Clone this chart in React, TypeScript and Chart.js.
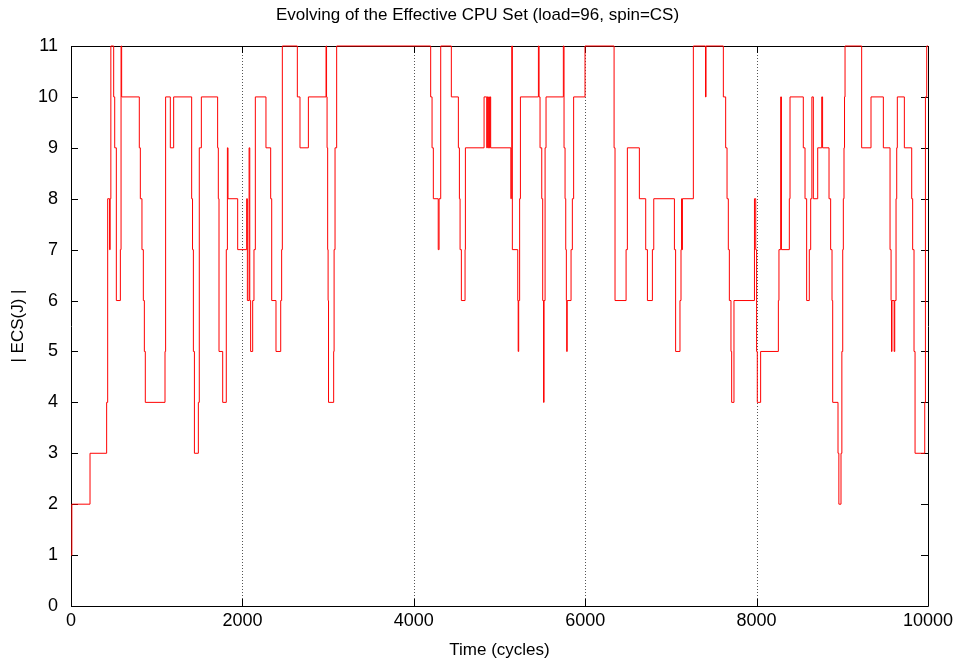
import React, { useEffect, useRef } from "react";
import { Chart, registerables } from "chart.js";

Chart.register(...registerables);

const chartTitle = "Evolving of the Effective CPU Set (load=96, spin=CS)";
const xAxisTitle = "Time (cycles)";
const yAxisTitle = "| ECS(J) |";

// time (cycles) at which each new |ECS(J)| value starts
const stepTimes = [
  0, 10, 222, 416, 428, 450, 457, 465, 498, 510, 529, 576, 584, 591, 797, 809, 828, 844, 856, 867,
  1097, 1104, 1159, 1198, 1408, 1418, 1428, 1440, 1486, 1497, 1521, 1711, 1719, 1727, 1770, 1812, 1825, 1832, 1945,
  2050, 2058, 2078, 2086, 2096, 2120, 2135, 2151, 2275, 2330, 2342, 2392, 2447, 2458, 2466, 2641, 2672, 2770,
  2976, 2982, 2988, 2995, 3000, 3005, 3065, 3070, 3081, 3100,
  4197, 4213, 4228, 4285, 4295, 4314, 4438, 4520, 4532, 4540, 4555, 4598, 4602, 4820, 4851, 4858, 4866, 4874, 4882, 4890, 4897,
  5133, 5138, 5143, 5150, 5213, 5218, 5224, 5235, 5244, 5454, 5462, 5473, 5493, 5504, 5514, 5520, 5532, 5543,
  5745, 5753, 5765, 5773, 5780, 5784, 5790, 5835, 5850, 5865, 5998,
  6337, 6348, 6477, 6492, 6632, 6706, 6726, 6784, 6800, 7041, 7055, 7106, 7118, 7125, 7128, 7134, 7262, 7404, 7410,
  7612, 7639, 7655, 7670, 7682, 7701, 7709, 7736, 7975, 7990, 8000, 8008, 8047, 8254, 8261, 8281, 8290, 8382, 8390,
  8545, 8565, 8584, 8615, 8631, 8645, 8662, 8713, 8760, 8770, 8845, 8864, 8880, 8888, 8950, 8960, 8985, 8995, 9005,
  9012, 9020, 9026, 9032, 9226, 9335, 9479, 9557, 9569, 9574, 9580, 9605, 9612, 9627, 9635, 9642, 9724, 9810, 9821,
  9837, 9849, 9962, 9970, 9985, 10000,
];

const ecsValues = [
  1, 2, 3, 4, 8, 7, 8, 11, 10, 9, 6, 7, 11, 10, 9, 8, 7, 6, 5, 4,
  5, 10, 9, 10, 8, 7, 5, 3, 4, 9, 10, 9, 8, 5, 4, 7, 9, 8, 7,
  8, 6, 9, 6, 5, 6, 7, 10, 9, 8, 6, 5, 6, 7, 11, 10, 9, 10,
  11, 10, 9, 7, 6, 4, 5, 7, 9, 11,
  10, 9, 8, 7, 8, 11, 10, 9, 8, 7, 6, 7, 9, 10, 9, 10, 9, 10, 9, 10, 9,
  8, 9, 11, 7, 6, 5, 6, 8, 10, 11, 10, 9, 8, 6, 4, 6, 9, 10,
  11, 9, 8, 7, 6, 5, 6, 7, 8, 10, 11,
  9, 6, 7, 9, 8, 7, 6, 7, 8, 7, 5, 6, 7, 8, 7, 8, 11, 10, 11,
  10, 9, 8, 7, 6, 5, 4, 6, 8, 7, 5, 4, 5, 6, 7, 10, 7, 8, 10,
  9, 8, 6, 7, 8, 10, 8, 9, 10, 9, 8, 7, 6, 4, 3, 2, 3, 5, 7,
  8, 9, 10, 11, 9, 10, 9, 7, 6, 5, 6, 5, 6, 8, 9, 10, 9, 8, 7,
  5, 3, 4, 10, 11, 11,
];

const xTickValues = [0, 2000, 4000, 6000, 8000, 10000];
const yTickValues = [0, 1, 2, 3, 4, 5, 6, 7, 8, 9, 10, 11];
const gridTimes = [2000, 4000, 6000, 8000];

const FONT = "'Liberation Sans', Arial, Helvetica, sans-serif";

const framePlugin = {
  id: "gnuplotFrame",
  beforeDatasetsDraw(chart: any) {
    const { ctx, chartArea } = chart;
    const { left, right, top, bottom } = chartArea;
    const xs = chart.scales.x;
    const ys = chart.scales.y;
    ctx.save();
    // dotted vertical grid
    ctx.strokeStyle = "#555";
    ctx.lineWidth = 1;
    ctx.setLineDash([1, 2]);
    for (const t of gridTimes) {
      const px = Math.round(xs.getPixelForValue(t)) + 0.5;
      ctx.beginPath();
      ctx.moveTo(px, top);
      ctx.lineTo(px, bottom);
      ctx.stroke();
    }
    ctx.setLineDash([]);
    // frame
    ctx.strokeStyle = "#000";
    ctx.beginPath();
    ctx.rect(Math.round(left) + 0.5, Math.round(top) + 0.5, Math.round(right - left), Math.round(bottom - top));
    ctx.stroke();
    // inward ticks (mirrored)
    const tl = 7;
    ctx.beginPath();
    for (const t of xTickValues) {
      const px = Math.round(xs.getPixelForValue(t)) + 0.5;
      ctx.moveTo(px, bottom);
      ctx.lineTo(px, bottom - tl);
      ctx.moveTo(px, top);
      ctx.lineTo(px, top + tl);
    }
    for (const v of yTickValues) {
      const py = Math.round(ys.getPixelForValue(v)) + 0.5;
      ctx.moveTo(left, py);
      ctx.lineTo(left + tl, py);
      ctx.moveTo(right, py);
      ctx.lineTo(right - tl, py);
    }
    ctx.stroke();
    ctx.restore();
  },
  afterDraw(chart: any) {
    const { ctx } = chart;
    ctx.save();
    ctx.fillStyle = "#000";
    ctx.font = `17px ${FONT}`;
    ctx.textAlign = "center";
    ctx.textBaseline = "alphabetic";
    ctx.fillText(chartTitle, 477.5, 20);
    ctx.restore();
  },
};

export default function App() {
  const canvasRef = useRef<HTMLCanvasElement | null>(null);

  useEffect(() => {
    document.body.style.margin = "0";
    const canvas = canvasRef.current;
    if (!canvas) return;
    const points = stepTimes.map((t, i) => ({ x: t, y: ecsValues[i] }));
    const chart = new Chart(canvas, {
      type: "line",
      data: {
        datasets: [
          {
            data: points,
            stepped: "before",
            borderColor: "#ff0000",
            borderWidth: 1,
            pointRadius: 0,
            fill: false,
            clip: false as any,
          },
        ],
      },
      options: {
        animation: false,
        responsive: false,
        devicePixelRatio: 1,
        layout: { padding: { left: 0, right: 27, top: 46, bottom: 0 } },
        plugins: {
          legend: { display: false },
          tooltip: { enabled: false },
          title: { display: false },
        },
        scales: {
          x: {
            type: "linear",
            min: 0,
            max: 10000,
            afterFit: (s: any) => {
              s.height = 58;
              s.paddingLeft = 0;
              s.paddingRight = 0;
            },
            afterBuildTicks: (s: any) => {
              s.ticks = xTickValues.map((v) => ({ value: v }));
            },
            ticks: {
              color: "#000",
              font: { family: FONT, size: 18 },
              padding: 4,
              maxRotation: 0,
              autoSkip: false,
              callback: (v: any) => String(v),
            },
            grid: { display: false, drawTicks: false },
            border: { display: false },
            title: {
              display: true,
              text: xAxisTitle,
              color: "#000",
              font: { family: FONT, size: 17 },
              padding: { top: 0, bottom: 3 },
            },
          },
          y: {
            type: "linear",
            min: 0,
            max: 11,
            afterFit: (s: any) => {
              s.width = 71;
              s.paddingTop = 0;
              s.paddingBottom = 0;
            },
            afterBuildTicks: (s: any) => {
              s.ticks = yTickValues.map((v) => ({ value: v }));
            },
            ticks: {
              color: "#000",
              font: { family: FONT, size: 18 },
              padding: 13,
              autoSkip: false,
              callback: (v: any) => String(v),
            },
            grid: { display: false, drawTicks: false },
            border: { display: false },
            title: {
              display: true,
              text: yAxisTitle,
              color: "#000",
              font: { family: FONT, size: 17 },
              padding: { top: 8, bottom: 0 },
            },
          },
        },
      },
      plugins: [framePlugin],
    });
    return () => chart.destroy();
  }, []);

  return (
    <div style={{ position: "absolute", left: 0, top: 0, width: 955, height: 664, background: "#fff" }}>
      <canvas ref={canvasRef} width={955} height={664} style={{ width: 955, height: 664 }} />
    </div>
  );
}
